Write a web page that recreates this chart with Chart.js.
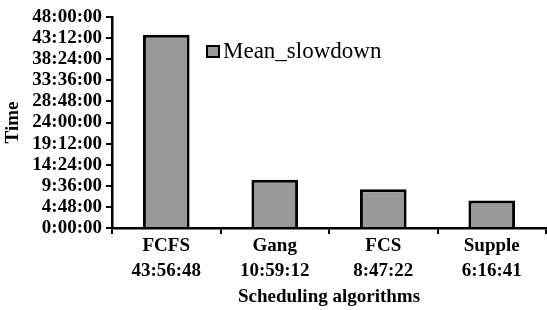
<!DOCTYPE html>
<html>
<head>
<meta charset="utf-8">
<script src="https://cdn.jsdelivr.net/npm/chart.js@4"></script>
<style>
  html, body { margin: 0; padding: 0; background: #fff; }
  #wrap { width: 547px; height: 310px; }
</style>
</head>
<body>
<div id="wrap"><canvas id="chart" width="547" height="310"></canvas></div>
<script>
const categories = ['FCFS', 'Gang', 'FCS', 'Supple'];
const slowdown = ['43:56:48', '10:59:12', '8:47:22', '6:16:41'];
const seriesName = 'Mean_slowdown';
const yMax = 48;
const yStep = 4.8;

// "h:mm:ss" -> hours
const toHours = (s) => {
    const p = s.split(':').map(Number);
    return p[0] + p[1] / 60 + p[2] / 3600;
};
// hours -> "h:mm:ss"
const fmt = (h) => {
    const t = Math.round(h * 3600);
    const hh = Math.floor(t / 3600);
    const mm = Math.floor((t % 3600) / 60);
    const ss = t % 60;
    return hh + ':' + String(mm).padStart(2, '0') + ':' + String(ss).padStart(2, '0');
};

const serif = '"Liberation Serif", "Times New Roman", serif';

// legend drawn inside the plot
const insideLegend = {
    id: 'insideLegend',
    afterDraw(chart) {
        const ctx = chart.ctx;
        const ds = chart.data.datasets[0];
        ctx.save();
        ctx.fillStyle = ds.backgroundColor;
        ctx.fillRect(207, 46, 12, 11);
        ctx.strokeStyle = '#000';
        ctx.lineWidth = 2;
        ctx.strokeRect(207, 46, 12, 11);
        ctx.fillStyle = '#000';
        ctx.font = '23px ' + serif;
        ctx.textBaseline = 'middle';
        ctx.fillText(ds.label, 223, 52);
        ctx.restore();
    }
};

new Chart(document.getElementById('chart'), {
    type: 'bar',
    data: {
        labels: categories.map((c, i) => [c, slowdown[i]]),
        datasets: [{
            label: seriesName,
            data: slowdown.map(toHours),
            backgroundColor: '#999999',
            borderColor: '#000000',
            borderWidth: 3,
            barPercentage: 0.43,
            categoryPercentage: 1
        }]
    },
    options: {
        responsive: false,
        animation: false,
        layout: { padding: { top: 17, right: 1, left: 0, bottom: 0 } },
        plugins: {
            legend: { display: false },
            tooltip: { enabled: false }
        },
        scales: {
            x: {
                offset: true,
                afterFit: (s) => { s.height = 82; },
                border: { color: '#000', width: 2.5 },
                grid: { offset: true, drawOnChartArea: false, color: '#000', lineWidth: 2, tickLength: 6 },
                ticks: {
                    color: '#000',
                    padding: 0,
                    maxRotation: 0,
                    autoSkip: false,
                    font: { family: serif, size: 19, weight: 'bold', lineHeight: 1.3 }
                },
                title: {
                    display: true,
                    text: 'Scheduling algorithms',
                    color: '#000',
                    padding: { top: 0, bottom: 2 },
                    font: { family: serif, size: 19, weight: 'bold' }
                }
            },
            y: {
                min: 0,
                max: yMax,
                afterFit: (s) => { s.width = 112; },
                border: { color: '#000', width: 2.5 },
                grid: { drawOnChartArea: false, color: '#000', lineWidth: 2, tickLength: 6 },
                ticks: {
                    stepSize: yStep,
                    autoSkip: false,
                    color: '#000',
                    padding: 4,
                    font: { family: serif, size: 19, weight: 'bold' },
                    callback: (v) => fmt(v)
                },
                title: {
                    display: true,
                    text: 'Time',
                    color: '#000',
                    padding: { top: 2, bottom: 0 },
                    font: { family: serif, size: 19, weight: 'bold' }
                }
            }
        }
    },
    plugins: [insideLegend]
});
</script>
</body>
</html>
